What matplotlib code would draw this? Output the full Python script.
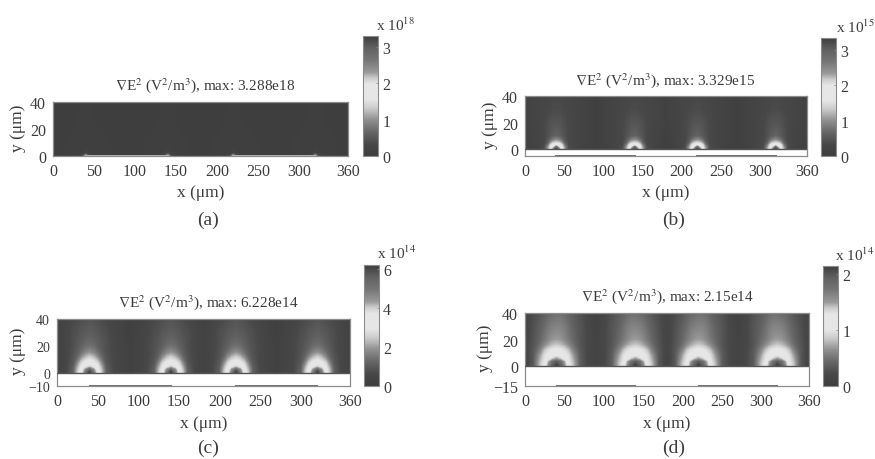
import numpy as np
import matplotlib
matplotlib.use('Agg')
import matplotlib.pyplot as plt
from matplotlib.colors import LinearSegmentedColormap, Normalize
from matplotlib.cm import ScalarMappable

plt.rcParams['font.family'] = ['Liberation Serif', 'DejaVu Serif']
plt.rcParams['mathtext.fontset'] = 'stix'

W, H = 875, 460
TXT = '#3c3c3c'
EDGE = '#8c8c8c'

# electrodes along the bottom of the plot (um)
electrodes = [(40, 140), (220, 320)]

# gray levels of the colorbar, bottom to top
cmap_pos = [0, 0.1, 0.2, 0.3, 0.4, 0.47, 0.6, 0.65, 0.7, 0.8, 0.9, 1.0]
cmap_gray = [0.24, 0.28, 0.40, 0.56, 0.80, 0.90, 0.90, 0.80, 0.60, 0.46, 0.38, 0.24]

# field as fraction of max, one half cell (0..90 um), rows from y=0 upwards
a_x = [0, 30, 36, 39, 40, 41, 44, 50, 90]
a_y = [0, 1, 2, 4, 10, 40]
a_z = [[.01, .02, .10, .35, .45, .35, .10, .02, .01],
       [.01, .02, .05, .16, .22, .16, .05, .02, .01],
       [.01, .02, .03, .06, .08, .06, .03, .02, .01],
       [.01, .02, .02, .03, .03, .03, .02, .02, .01],
       [.01, .02, .02, .02, .02, .02, .02, .02, .01],
       [.01, .01, .02, .02, .02, .02, .02, .01, .01]]

b_x = [0, 15, 25, 30, 33, 36, 40, 44, 47, 50, 55, 70, 90]
b_y = [0, 1.5, 3, 5, 7, 10, 20, 30, 40]
b_z = [[.03, .05, .12, .34, .50, .72, 1.0, .72, .50, .34, .12, .05, .03],
       [.03, .05, .12, .32, .47, .60, .85, .60, .47, .32, .12, .05, .03],
       [.03, .05, .11, .26, .44, .54, .60, .54, .44, .26, .11, .05, .03],
       [.03, .06, .10, .18, .30, .38, .42, .38, .30, .18, .10, .06, .03],
       [.03, .06, .10, .15, .21, .26, .29, .26, .21, .15, .10, .06, .03],
       [.03, .06, .10, .13, .15, .17, .19, .17, .15, .13, .10, .06, .03],
       [.04, .07, .10, .12, .13, .14, .14, .14, .13, .12, .10, .06, .03],
       [.04, .07, .09, .10, .10, .11, .11, .11, .10, .10, .09, .06, .03],
       [.04, .07, .09, .09, .10, .10, .10, .10, .10, .09, .09, .06, .03]]

c_x = [0, 10, 20, 25, 30, 35, 40, 45, 50, 55, 60, 70, 80, 90]
c_y = [0, 2, 4, 7, 11, 15, 20, 30, 40]
c_z = [[.05, .08, .18, .38, .54, .78, 1.0, .78, .54, .38, .18, .09, .06, .04],
       [.05, .08, .18, .36, .52, .72, .88, .72, .52, .36, .18, .09, .06, .04],
       [.05, .08, .17, .33, .48, .60, .66, .60, .48, .33, .17, .09, .06, .04],
       [.05, .08, .15, .27, .42, .50, .54, .50, .42, .27, .15, .09, .06, .04],
       [.05, .08, .14, .20, .30, .38, .42, .38, .30, .20, .14, .09, .06, .04],
       [.05, .08, .13, .17, .22, .27, .30, .27, .22, .17, .13, .09, .06, .04],
       [.05, .08, .12, .15, .18, .21, .22, .21, .18, .15, .13, .09, .06, .04],
       [.05, .08, .12, .13, .15, .16, .17, .16, .15, .13, .12, .08, .05, .03],
       [.04, .07, .10, .11, .12, .13, .14, .13, .12, .11, .10, .07, .05, .03]]

d_x = [0, 10, 20, 25, 30, 35, 40, 45, 50, 55, 60, 70, 80, 90]
d_y = [0, 3, 5, 8, 12, 16, 20, 30, 40]
d_z = [[.06, .14, .40, .50, .72, .90, 1.0, .90, .72, .50, .40, .16, .09, .06],
       [.06, .14, .38, .48, .68, .84, .92, .84, .68, .48, .38, .16, .09, .06],
       [.06, .14, .36, .46, .58, .66, .72, .66, .58, .46, .36, .16, .09, .06],
       [.06, .14, .33, .44, .50, .55, .58, .55, .50, .44, .33, .16, .09, .06],
       [.07, .14, .27, .37, .44, .48, .50, .48, .44, .37, .28, .15, .09, .06],
       [.07, .13, .22, .28, .33, .37, .39, .37, .33, .28, .23, .14, .09, .06],
       [.07, .13, .20, .24, .28, .31, .32, .31, .28, .24, .21, .14, .09, .06],
       [.07, .12, .18, .21, .24, .26, .27, .27, .25, .22, .19, .14, .09, .05],
       [.07, .11, .15, .18, .20, .21, .22, .22, .21, .19, .17, .13, .08, .05]]

max_vals = ['3.288e18', '3.329e15', '6.228e14', '2.15e14']
max_mant = [3.288, 3.329, 6.228, 2.15]
cb_exp = ['18', '15', '14', '14']
cb_ticks = [[0, 1, 2, 3], [0, 1, 2, 3], [0, 2, 4, 6], [0, 1, 2]]
y_low = [0, -5, -10, -15]
y_ticks = [[0, 20, 40], [0, 20, 40], [-10, 0, 20, 40], [-15, 0, 20, 40]]
x_ticks = [0, 50, 100, 150, 200, 250, 300, 360]
letters = ['(a)', '(b)', '(c)', '(d)']

# pixel layout: axes left,right,top,bottom / colorbar left,right,top
ax_px = [(53, 348, 103, 157), (525, 807, 97, 157), (57, 350, 320, 387), (525, 809, 314, 387)]
cb_px = [(363, 378, 37), (821, 836, 39), (364, 379, 266), (823, 838, 267)]
title_px = [(205, 86), (665, 81), (208, 303), (667, 297)]
exp_px = [(396, 25), (855, 27), (397, 253), (855, 255)]
letter_px = [(208, 220), (674, 220), (208, 448), (674, 448)]
ylab_px = [18, 490, 18, 485]

gray_map = LinearSegmentedColormap.from_list(
    'jetgray', [(p, (g, g, g)) for p, g in zip(cmap_pos, cmap_gray)], N=512)


def box(left, right, top, bottom):
    return [left / W, 1 - bottom / H, (right - left) / W, (bottom - top) / H]


def put(x, y, s, **kw):
    fig.text(x / W, 1 - y / H, s, ha=kw.pop('ha', 'center'), va=kw.pop('va', 'center'), color=TXT, **kw)


def full_field(xs, zs):
    # the half cell repeats mirrored: peaks at 40, 140, 220, 320
    xs = np.array(xs, float)
    zs = np.array(zs, float)
    x1 = np.concatenate([xs, 180 - xs[::-1][1:]])
    z1 = np.hstack([zs, zs[:, ::-1][:, 1:]])
    return np.concatenate([x1, 180 + x1[1:]]), np.hstack([z1, z1[:, 1:]])


fig = plt.figure(figsize=(W / 100, H / 100), dpi=100)
fields = [(a_x, a_y, a_z), (b_x, b_y, b_z), (c_x, c_y, c_z), (d_x, d_y, d_z)]

for i, (xs, ys, zs) in enumerate(fields):
    ax = fig.add_axes(box(*ax_px[i]))
    X, Z = full_field(xs, zs)
    cf = ax.contourf(X, ys, Z * max_mant[i], levels=np.linspace(0, max_mant[i], 200),
                     cmap=gray_map, antialiased=False)
    ax.plot([0, 360], [0, 0], color='#555555', lw=1.0, zorder=3, clip_on=True)
    line_col = '#b0b0b0' if i == 0 else '#707070'
    for e0, e1 in electrodes:
        ax.plot([e0, e1], [y_low[i], y_low[i]], color=line_col, lw=1.4, zorder=4)
    ax.set_xlim(0, 360)
    ax.set_ylim(y_low[i], 40)
    ax.set_xticks(x_ticks)
    ax.set_yticks(y_ticks[i])
    ax.tick_params(length=0, labelsize=11.5, labelcolor=TXT, pad=5)
    # -10 sits very close to 0 in panel c
    if i == 2:
        ax.tick_params(axis='y', labelsize=10)
    for s in ax.spines.values():
        s.set_color(EDGE)
        s.set_linewidth(0.9)
    ax.set_xlabel('x (μm)', fontsize=12.5, color=TXT, labelpad=4)
    put(ylab_px[i], (ax_px[i][2] + ax_px[i][3]) / 2 - 2, 'y (μm)', fontsize=12.5, rotation=90)
    put(*title_px[i], r'$\nabla$E$^2$ (V$^2$/m$^3$), max: ' + max_vals[i], fontsize=11)

    left, right, top = cb_px[i]
    cax = fig.add_axes(box(left, right, top, ax_px[i][3]))
    sm = ScalarMappable(norm=Normalize(0, max_mant[i]), cmap=gray_map)
    cb = fig.colorbar(sm, cax=cax)
    cb.set_ticks(cb_ticks[i])
    cb.ax.tick_params(length=1.5, width=0.6, color=EDGE, labelsize=11.5, labelcolor=TXT, pad=3, direction='in')
    cb.outline.set_edgecolor(EDGE)
    cb.outline.set_linewidth(0.8)
    put(*exp_px[i], 'x 10$^{' + cb_exp[i] + '}$', fontsize=11)
    put(*letter_px[i], letters[i], fontsize=14)

fig.savefig('out.png', dpi=100)
